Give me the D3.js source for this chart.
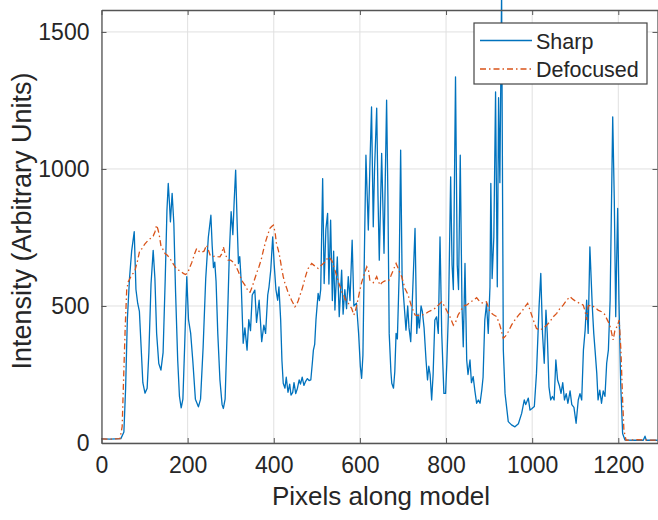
<!DOCTYPE html>
<html><head><meta charset="utf-8">
<script src="https://cdn.jsdelivr.net/npm/d3@7"></script>
<style>body{margin:0;background:#fff}svg{display:block}</style>
</head><body>
<svg id="c" width="658" height="520"></svg>
<script>
const xTicks=[0,200,400,600,800,1000,1200];
const yTicks=[0,500,1000,1500];
const xDomain=[0,1291];
const yDomain=[0,1580];
const seriesNames=["Sharp","Defocused"];
const xLabel="Pixels along model";
const yLabel="Intensity (Arbitrary Units)";

const sharp=[[0,15],[20,14],[45,16],[52,40],[56,200],[60,450],[65,600],[70,700],[76,771],[80,560],[84,510],[88,480],[92,350],[96,220],[101,182],[106,200],[110,330],[115,580],[120,703],[124,600],[128,400],[133,290],[138,266],[143,330],[148,600],[152,850],[155,947],[158,870],[160,807],[164,911],[168,800],[172,550],[177,300],[181,170],[185,128],[189,160],[193,350],[198,607],[202,450],[207,401],[212,300],[218,160],[225,132],[230,160],[236,350],[242,600],[248,750],[254,831],[257,720],[260,640],[263,660],[266,590],[270,400],[275,230],[280,140],[283,126],[287,160],[292,420],[297,700],[301,844],[305,760],[308,880],[311.5,996],[315,800],[318,655],[321,680],[324,600],[329,364],[333,420],[338,339],[342,450],[346,410],[350,540],[356,558],[360,440],[366,521],[372,370],[377,430],[381,400],[386,540],[389,570],[393,631],[397.5,752],[401,650],[405,560],[409,521],[412,570],[416,450],[419,300],[422,218],[426,200],[429,240],[433,185],[437,215],[440,175],[444,185],[447,220],[451,180],[455,200],[459,230],[462,215],[466,240],[470,210],[474,225],[478,235],[482,228],[486,230],[490,300],[492,339],[495,360],[498,450],[503,546],[506,520],[509,560],[513.5,965],[517,582],[521,780],[525,838],[528,580],[532,813],[536,520],[539,700],[542,485],[547.5,679],[552,461],[557.6,631],[561,470],[565,560],[569,490],[573,607],[577,520],[582,740],[586,500],[592,510],[597,400],[601,280],[604,236],[607,320],[610,650],[614,1050],[617,900],[619.5,777],[623,1000],[627,1226],[631,789],[634,1000],[639,1222],[642,900],[645,667],[650.5,1057],[656,692],[662,1251],[665,900],[668,400],[672,260],[674,218],[678,200],[681,260],[684,400],[687,380],[691,607],[694.6,1069],[698,607],[702,521],[707,412],[711,500],[714,420],[718,370],[722,530],[728,783],[732,400],[735,470],[738,420],[742,500],[745,480],[749,420],[753.5,303],[757,230],[760,280],[763,250],[766.6,157],[770,250],[774,449],[778,460],[782,400],[786,752],[790,400],[795,181],[799,181],[802,300],[806,500],[810.7,971],[814,650],[817,560],[822,1336],[826,650],[829,560],[833,1050],[837,500],[840,351],[844,655],[848,303],[851,250],[855.6,303],[859,220],[863,242],[867,190],[871,145],[875,157],[879,145],[883,193],[886,240],[890,449],[894,509],[898,400],[902,570],[904,947],[907,600],[911,752],[915,1281],[919,570],[922,1260],[925,950],[929,1650],[933,339],[937,181],[944.5,78],[952,66],[960,59],[968,70],[975.6,108],[981.7,157],[985,140],[991,164],[995,120],[999,125],[1005,133],[1010,254],[1016,497],[1020,619],[1024,400],[1028,291],[1032,485],[1035,400],[1039,205],[1043,157],[1047,170],[1051,157],[1055,303],[1059,230],[1063,210],[1067,181],[1071,220],[1075,157],[1079,180],[1083,145],[1088,190],[1092,140],[1097,130],[1102,72],[1107,157],[1111,180],[1115,157],[1119,339],[1123,412],[1126.5,521],[1130,400],[1134,716],[1139.6,497],[1143,400],[1146,339],[1150,254],[1153,157],[1157,193],[1161,145],[1165,190],[1169,170],[1173,291],[1177,340],[1181,521],[1184.5,911],[1187,1190],[1190.7,886],[1194,461],[1196,650],[1198.5,856],[1201.5,521],[1205.5,218],[1210,35],[1215.5,11],[1240,10],[1258,10],[1262,25],[1265,10],[1291,10]];

const defocused=[[0,15],[20,14],[43,16],[48,60],[51,218],[55,420],[58.5,558],[62,588],[66,600],[70,613],[74,620],[78,631],[83,660],[89,704],[95,710],[100,725],[105,734],[110,742],[115,748],[120,755],[124,770],[128,795],[131,780],[134,760],[138,720],[143.5,704],[148,690],[153,685],[159,673],[164,660],[170,645],[174.6,633],[180,630],[185,625],[190,619],[195,615],[200,620],[205.5,643],[210,660],[216,690],[221,710],[226,700],[232,695],[238,700],[244,722],[248,705],[252,686],[258,680],[264,682],[270,680],[275,679],[279,690],[283,716],[287,690],[294,667],[300,667],[306,660],[312,645],[318,625],[324,600],[329,585],[333,576],[337,565],[341,552],[345,550],[350,570],[355,595],[360,619],[366,645],[371,670],[376,704],[381,735],[386,760],[391,783],[395,790],[399,795],[403,770],[406,730],[410.5,704],[414,679],[418,640],[422,607],[426,582],[430,565],[434,545],[438,534],[441,522],[445,510],[449,497],[453,505],[457,520],[461,540],[465,558],[469,580],[472.5,601],[476,620],[480,637],[484,645],[488,655],[492,650],[496,645],[500,640],[503,637],[507,642],[511,650],[515,655],[519,661],[523,670],[526.6,679],[530,675],[535,665],[539,645],[542,631],[546,610],[550,588],[554,570],[557.7,552],[562,540],[566,525],[570,515],[573,510],[577,500],[581,491],[586,467],[590,485],[595,520],[600,558],[604,585],[608,607],[612,625],[616,643],[620,630],[623,594],[627,590],[631,585],[635,595],[639,607],[643,590],[646.6,576],[651,585],[656,590],[662,594],[667,593],[672,610],[677.5,631],[684,655],[688,640],[692,625],[697,607],[700,590],[704.6,564],[712,540],[720,497],[728,467],[735,465],[743.5,467],[751,470],[759,479],[766,484],[774,491],[782,503],[790,515],[796,500],[803,479],[809,461],[817,430],[822,440],[828,467],[836,488],[844,503],[848,503],[855,512],[863,521],[871,530],[879,515],[886,510],[894,515],[902,479],[910,468],[917.6,461],[925,430],[933,382],[938,390],[944.5,406],[952,430],[960,449],[968,466],[975.6,479],[983,497],[989.5,510],[995,485],[1002.6,449],[1010,418],[1018,412],[1025,418],[1033.6,430],[1041,442],[1049,461],[1057,473],[1064,490],[1072,503],[1080,521],[1088,534],[1095,524],[1103,515],[1110,510],[1118.6,503],[1123,480],[1126.5,449],[1130,500],[1138,503],[1145,495],[1153,485],[1161,479],[1168,470],[1176.7,442],[1182,420],[1188,376],[1192,410],[1198.5,430],[1202,449],[1206,339],[1210,157],[1213,47],[1218,10],[1240,12],[1291,10]];

const colors=["#0072BD","#D95319"];
const font="'Liberation Sans', Arial, Helvetica, sans-serif";
const svg=d3.select("#c");
const L=101.5,R=657.5,T=10,B=443;
const x=d3.scaleLinear().domain(xDomain).range([L,R]);
const y=d3.scaleLinear().domain(yDomain).range([B,T]);
const fmt=d3.format("d");

// grid
const g=svg.append("g");
g.selectAll("line.gx").data(xTicks).join("line")
  .attr("x1",d=>x(d)).attr("x2",d=>x(d)).attr("y1",T).attr("y2",B)
  .attr("stroke","#e0e0e0").attr("stroke-width",1);
g.selectAll("line.gy").data(yTicks).join("line")
  .attr("x1",L).attr("x2",R).attr("y1",d=>y(d)).attr("y2",d=>y(d))
  .attr("stroke","#e0e0e0").attr("stroke-width",1);

// lines
const line=d3.line().x(d=>x(d[0])).y(d=>y(d[1]));
svg.append("path").datum(sharp).attr("d",line).attr("fill","none")
  .attr("stroke",colors[0]).attr("stroke-width",1.3).attr("stroke-linejoin","round");
svg.append("path").datum(defocused).attr("d",line).attr("fill","none")
  .attr("stroke",colors[1]).attr("stroke-width",1.3).attr("stroke-dasharray","6,3,1.5,3");

// axes
const axC="#555";
const xa=svg.append("g").attr("transform",`translate(0,${B})`)
  .call(d3.axisBottom(x).tickValues(xTicks).tickFormat(fmt).tickSizeInner(-5).tickSizeOuter(0).tickPadding(14));
const ya=svg.append("g").attr("transform",`translate(${L},0)`)
  .call(d3.axisLeft(y).tickValues(yTicks).tickFormat(fmt).tickSizeInner(-5).tickSizeOuter(0).tickPadding(12));
const xt=svg.append("g").attr("transform",`translate(0,${T})`)
  .call(d3.axisTop(x).tickValues(xTicks).tickSizeInner(-5).tickSizeOuter(0).tickFormat(""));
const yr=svg.append("g").attr("transform",`translate(${R},0)`)
  .call(d3.axisRight(y).tickValues(yTicks).tickSizeInner(-5).tickSizeOuter(0).tickFormat(""));
[xa,ya,xt,yr].forEach(a=>{
  a.select(".domain").attr("stroke",axC).attr("stroke-width",1.3);
  a.selectAll(".tick line").attr("stroke",axC).attr("stroke-width",1);
  a.selectAll("text").attr("font-family",font).attr("font-size",23).attr("fill","#262626");
});
xa.selectAll("text").attr("dy","0.71em");

svg.append("text").attr("x",381).attr("y",505).attr("text-anchor","middle")
  .attr("font-family",font).attr("font-size",26).attr("fill","#262626").text(xLabel);
svg.append("text").attr("transform","translate(31,221) rotate(-90)").attr("text-anchor","middle")
  .attr("font-family",font).attr("font-size",27).attr("fill","#262626").text(yLabel);

// legend
const lg=svg.append("g");
lg.append("rect").attr("x",474).attr("y",23).attr("width",173).attr("height",61)
  .attr("fill","#fff").attr("stroke","#444").attr("stroke-width",1.2);
const ly=[40.5,69];
seriesNames.forEach((n,i)=>{
  lg.append("line").attr("x1",480).attr("x2",532).attr("y1",ly[i]).attr("y2",ly[i])
    .attr("stroke",colors[i]).attr("stroke-width",1.3)
    .attr("stroke-dasharray",i===1?"6,3,1.5,3":null);
  lg.append("text").attr("x",536).attr("y",ly[i]+8).attr("font-family",font)
    .attr("font-size",21.5).attr("fill","#262626").text(n);
});
</script>
</body></html>
